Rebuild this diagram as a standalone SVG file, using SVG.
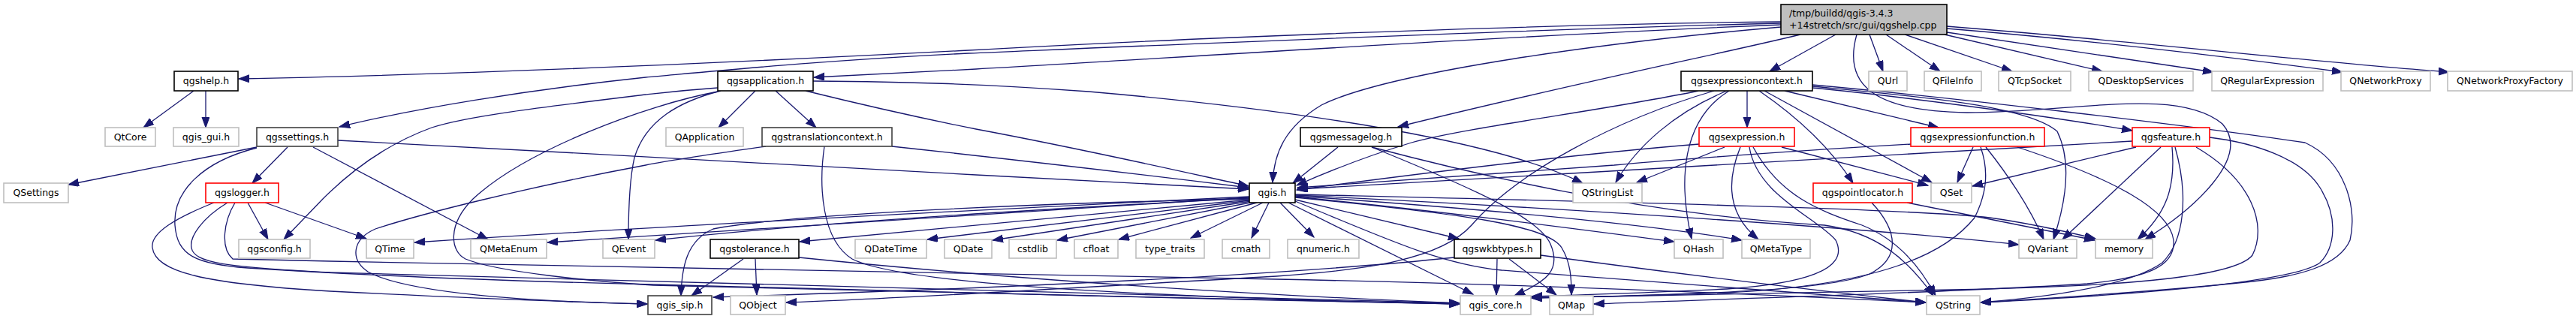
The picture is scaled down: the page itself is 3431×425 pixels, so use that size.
<svg xmlns="http://www.w3.org/2000/svg" width="3431" height="425" viewBox="0 0 3431 425">
<style>
.e{fill:none;stroke:#191970;stroke-width:1.3;marker-end:url(#a)}
.n rect{fill:#fff;stroke-width:1.6}
.k rect{stroke:#000}
.d rect{stroke:#404040}
.r rect{stroke:#ff0000}
.g rect{stroke:#bfbfbf}
text{font-family:"DejaVu Sans",sans-serif;font-size:12.5px;fill:#000;text-anchor:middle}
</style>
<defs>
<marker id="a" markerUnits="userSpaceOnUse" markerWidth="15" markerHeight="11" refX="14" refY="5" orient="auto">
<path d="M0,0 L14,5 L0,10 z" fill="#191970" stroke="#191970" stroke-width="1"/>
</marker>
</defs>
<rect width="3431" height="425" fill="#fff"/>
<g id="edges">
<path class="e" d="M2372,29 C2000,33 1500,55 1290,67 C1000,82 600,100 318,105"/>
<path class="e" d="M2372,31 C2000,40 1550,60 1290,71 C1100,80 950,95 860,103 C700,120 550,145 452,169"/>
<path class="e" d="M2372,33 C2000,48 1550,78 1300,92 C1200,97 1120,101 1084,103"/>
<path class="e" d="M2372,36 C2150,55 1850,95 1760,140 C1710,170 1697,205 1695,243"/>
<path class="e" d="M2398,46 C2300,70 2100,110 1862,169"/>
<path class="e" d="M2445,46 L2357,95"/>
<path class="e" d="M2473,46 C2455,110 2490,148 2620,150 C2760,150 2900,115 2960,165 C3000,210 2920,280 2857,319"/>
<path class="e" d="M2490,46 L2508,95"/>
<path class="e" d="M2512,46 L2584,95"/>
<path class="e" d="M2537,46 L2680,95"/>
<path class="e" d="M2590,46 L2800,95"/>
<path class="e" d="M2593,43 L2948,96"/>
<path class="e" d="M2593,38 C2800,55 3000,80 3120,96"/>
<path class="e" d="M2593,35 C2850,55 3100,85 3262,96"/>
<path class="e" d="M258,121 L191,170"/>
<path class="e" d="M274,121 L274,170"/>
<path class="e" d="M342,196 L91,246"/>
<path class="e" d="M383,196 L336,244"/>
<path class="e" d="M417,196 L650,319"/>
<path class="e" d="M450,187 C700,200 1100,222 1300,233 C1450,241 1560,247 1663,252"/>
<path class="e" d="M342,197 C270,215 230,255 233,300 C236,340 260,352 330,357 C500,368 700,375 870,379 C1200,388 1600,398 1944,405"/>
<path class="e" d="M330,270 L357,319"/>
<path class="e" d="M353,270 L488,318"/>
<path class="e" d="M285,270 C235,290 200,310 203,330 C207,362 270,378 440,388 C600,396 750,402 862,405"/>
<path class="e" d="M303,270 C270,290 252,315 255,330 C258,350 300,356 440,363 C700,374 1300,390 1944,404"/>
<path class="e" d="M313,270 C298,295 293,330 310,345 L440,348 C900,360 1300,366 1700,372 C2000,378 2300,390 2565,403"/>
<path class="e" d="M1006,121 L957,170"/>
<path class="e" d="M1033,121 L1087,170"/>
<path class="e" d="M1073,121 C1150,140 1250,162 1300,172 C1450,200 1580,230 1663,248"/>
<path class="e" d="M1083,108 C1200,109 1300,111 1450,122 C1750,148 2000,190 2108,244"/>
<path class="e" d="M956,117 C900,121 870,125 860,126 C720,143 620,155 575,170 C520,190 470,225 430,265 L378,319"/>
<path class="e" d="M960,121 C905,135 860,160 845,210 C838,240 837,280 837,319"/>
<path class="e" d="M956,122 C860,140 700,200 630,265 C595,300 600,335 620,345 C660,362 790,375 870,380 C1300,392 1600,398 1944,405"/>
<path class="e" d="M1020,195 C950,205 900,212 860,220 C700,250 560,285 500,305 C470,318 465,345 490,362 C540,390 700,402 862,405"/>
<path class="e" d="M1098,195 C1090,250 1095,320 1135,345 C1200,378 1500,395 1944,405"/>
<path class="e" d="M1188,195 C1400,218 1550,236 1663,250"/>
<path class="e" d="M1782,196 L1722,244"/>
<path class="e" d="M1827,196 C1960,250 2050,290 2065,325 C2080,360 2060,375 2017,394"/>
<path class="e" d="M1827,196 C2050,255 2250,290 2430,300 C2500,310 2540,345 2575,394"/>
<path class="e" d="M1664,262 C1300,280 900,300 552,323"/>
<path class="e" d="M1664,263 C1300,285 1000,305 729,323"/>
<path class="e" d="M1664,264 C1400,278 1100,295 873,320"/>
<path class="e" d="M1664,265 C1400,270 1050,285 950,305 C915,320 908,355 907,394"/>
<path class="e" d="M1664,266 L1065,322"/>
<path class="e" d="M1665,267 L1235,319"/>
<path class="e" d="M1667,268 L1322,320"/>
<path class="e" d="M1670,269 L1408,320"/>
<path class="e" d="M1674,270 L1490,319"/>
<path class="e" d="M1682,270 L1586,317"/>
<path class="e" d="M1690,270 L1667,317"/>
<path class="e" d="M1705,270 L1750,316"/>
<path class="e" d="M1725,266 L1943,318"/>
<path class="e" d="M1716,270 L1962,392"/>
<path class="e" d="M1725,263 C1950,285 2060,300 2080,330 C2092,350 2093,370 2093,393"/>
<path class="e" d="M1725,262 C1950,285 2100,305 2230,322"/>
<path class="e" d="M1725,261 C2000,280 2200,300 2320,320"/>
<path class="e" d="M1725,260 C2100,278 2500,305 2689,326"/>
<path class="e" d="M1725,259 C2100,268 2550,278 2650,290 C2700,297 2750,308 2791,318"/>
<path class="e" d="M1725,268 C1850,320 1920,352 2000,360 C2200,375 2400,392 2565,403"/>
<path class="e" d="M990,345 L921,394"/>
<path class="e" d="M1006,345 L1008,393"/>
<path class="e" d="M1064,343 C1300,367 1600,390 1944,404"/>
<path class="e" d="M1937,343 C1700,368 1300,385 950,396"/>
<path class="e" d="M1994,345 L1993,393"/>
<path class="e" d="M2010,345 L2073,393"/>
<path class="e" d="M2052,340 C2200,360 2400,385 2565,403"/>
<path class="e" d="M2262,121 C2150,145 1950,170 1880,190 C1820,208 1770,228 1727,247"/>
<path class="e" d="M2283,121 C2150,160 2020,230 1960,300 C1920,345 1820,360 1700,368 C1400,385 1200,398 1047,403"/>
<path class="e" d="M2300,121 C2230,150 2180,195 2152,243"/>
<path class="e" d="M2303,121 C2240,160 2235,240 2253,318"/>
<path class="e" d="M2327,121 L2327,170"/>
<path class="e" d="M2343,121 C2400,160 2440,200 2468,244"/>
<path class="e" d="M2350,121 L2573,243"/>
<path class="e" d="M2377,121 L2582,170"/>
<path class="e" d="M2414,117 C2500,125 2700,150 2840,174"/>
<path class="e" d="M2414,115 C2550,128 2700,140 2740,175 C2762,220 2748,280 2735,319"/>
<path class="e" d="M2414,113 C2600,130 2900,165 3070,190 C3125,215 3140,280 3130,320 C3115,355 3060,368 3000,375 C2880,388 2720,398 2638,403"/>
<path class="e" d="M2263,192 C2100,205 1900,230 1727,253"/>
<path class="e" d="M2297,196 L2180,243"/>
<path class="e" d="M2318,196 C2300,240 2300,285 2342,319"/>
<path class="e" d="M2330,196 C2340,260 2420,290 2445,320 C2465,360 2400,378 2300,385 C2200,390 2100,393 2040,395"/>
<path class="e" d="M2335,196 C2370,260 2420,280 2480,300 C2530,320 2560,360 2578,394"/>
<path class="e" d="M2373,196 L2568,247"/>
<path class="e" d="M2545,192 C2400,200 2200,215 2150,220 C2000,232 1850,242 1728,250"/>
<path class="e" d="M2628,196 L2607,243"/>
<path class="e" d="M2645,196 C2680,240 2705,280 2722,319"/>
<path class="e" d="M2638,196 C2650,230 2645,260 2630,290 C2590,340 2500,380 2300,390 C2200,394 2100,396 2040,396"/>
<path class="e" d="M2687,196 C2820,240 2890,280 2895,320 C2898,355 2860,370 2780,378 C2600,390 2300,398 2123,405"/>
<path class="e" d="M2840,188 C2600,205 2200,228 1728,252"/>
<path class="e" d="M2845,196 L2627,248"/>
<path class="e" d="M2878,196 L2747,319"/>
<path class="e" d="M2893,196 C2898,250 2885,285 2847,319"/>
<path class="e" d="M2897,196 C2915,260 2910,320 2880,350 C2830,385 2700,398 2638,403"/>
<path class="e" d="M2925,196 C3000,240 3020,300 3000,340 C2975,372 2800,382 2600,386 C2300,392 2150,396 2040,397"/>
<path class="e" d="M2943,183 C3000,190 3065,210 3090,250 C3115,290 3110,330 3090,350 C3060,372 2900,390 2638,403"/>
<path class="e" d="M2540,270 L2790,320"/>
<path class="e" d="M2493,270 C2530,310 2530,345 2490,365 C2440,385 2300,392 2040,397"/>
</g>
<g id="root" class="n k"><rect x="2372" y="6" width="221" height="40" style="fill:#bfbfbf"/><text x="2383" y="22" style="text-anchor:start">/tmp/buildd/qgis-3.4.3</text><text x="2383" y="38" style="text-anchor:start">+14stretch/src/gui/qgshelp.cpp</text></g>
<g id="qgshelp_h" class="n k"><rect x="232" y="95" width="85" height="26"/><text x="274.5" y="112">qgshelp.h</text></g>
<g id="qgsapplication_h" class="n k"><rect x="956" y="95" width="127" height="26"/><text x="1019.5" y="112">qgsapplication.h</text></g>
<g id="qgsexpressioncontext_h" class="n k"><rect x="2239" y="95" width="175" height="26"/><text x="2326.5" y="112">qgsexpressioncontext.h</text></g>
<g id="QUrl" class="n g"><rect x="2489" y="95" width="51" height="26"/><text x="2514.5" y="112">QUrl</text></g>
<g id="QFileInfo" class="n g"><rect x="2563" y="95" width="76" height="26"/><text x="2601" y="112">QFileInfo</text></g>
<g id="QTcpSocket" class="n g"><rect x="2662" y="95" width="96" height="26"/><text x="2710" y="112">QTcpSocket</text></g>
<g id="QDesktopServices" class="n g"><rect x="2782" y="95" width="139" height="26"/><text x="2851.5" y="112">QDesktopServices</text></g>
<g id="QRegularExpression" class="n g"><rect x="2946" y="95" width="148" height="26"/><text x="3020" y="112">QRegularExpression</text></g>
<g id="QNetworkProxy" class="n g"><rect x="3118" y="95" width="119" height="26"/><text x="3177.5" y="112">QNetworkProxy</text></g>
<g id="QNetworkProxyFactory" class="n g"><rect x="3260" y="95" width="166" height="26"/><text x="3343" y="112">QNetworkProxyFactory</text></g>
<g id="QtCore" class="n g"><rect x="140" y="170" width="67" height="25"/><text x="173.5" y="187">QtCore</text></g>
<g id="qgis_gui_h" class="n g"><rect x="231" y="170" width="87" height="25"/><text x="274.5" y="187">qgis_gui.h</text></g>
<g id="qgssettings_h" class="n d"><rect x="342" y="170" width="108" height="25"/><text x="396" y="187">qgssettings.h</text></g>
<g id="QApplication" class="n g"><rect x="887" y="170" width="103" height="25"/><text x="938.5" y="187">QApplication</text></g>
<g id="qgstranslationcontext_h" class="n d"><rect x="1015" y="170" width="173" height="25"/><text x="1101.5" y="187">qgstranslationcontext.h</text></g>
<g id="qgsmessagelog_h" class="n k"><rect x="1732" y="170" width="135" height="25"/><text x="1799.5" y="187">qgsmessagelog.h</text></g>
<g id="qgsexpression_h" class="n r"><rect x="2263" y="170" width="127" height="25"/><text x="2326.5" y="187">qgsexpression.h</text></g>
<g id="qgsexpressionfunction_h" class="n r"><rect x="2545" y="170" width="178" height="25"/><text x="2634" y="187">qgsexpressionfunction.h</text></g>
<g id="qgsfeature_h" class="n r"><rect x="2840" y="170" width="103" height="25"/><text x="2891.5" y="187">qgsfeature.h</text></g>
<g id="QSettings" class="n g"><rect x="5" y="244" width="86" height="26"/><text x="48" y="261">QSettings</text></g>
<g id="qgslogger_h" class="n r"><rect x="274" y="244" width="97" height="26"/><text x="322.5" y="261">qgslogger.h</text></g>
<g id="qgis_h" class="n k"><rect x="1664" y="244" width="61" height="26"/><text x="1694.5" y="261">qgis.h</text></g>
<g id="QStringList" class="n g"><rect x="2095" y="244" width="92" height="26"/><text x="2141" y="261">QStringList</text></g>
<g id="qgspointlocator_h" class="n r"><rect x="2415" y="244" width="132" height="26"/><text x="2481" y="261">qgspointlocator.h</text></g>
<g id="QSet" class="n g"><rect x="2572" y="244" width="54" height="26"/><text x="2599" y="261">QSet</text></g>
<g id="qgsconfig_h" class="n g"><rect x="318" y="319" width="95" height="25"/><text x="365.5" y="336">qgsconfig.h</text></g>
<g id="QTime" class="n g"><rect x="488" y="319" width="63" height="25"/><text x="519.5" y="336">QTime</text></g>
<g id="QMetaEnum" class="n g"><rect x="627" y="319" width="101" height="25"/><text x="677.5" y="336">QMetaEnum</text></g>
<g id="QEvent" class="n g"><rect x="803" y="319" width="69" height="25"/><text x="837.5" y="336">QEvent</text></g>
<g id="qgstolerance_h" class="n k"><rect x="946" y="319" width="118" height="25"/><text x="1005" y="336">qgstolerance.h</text></g>
<g id="QDateTime" class="n g"><rect x="1139" y="319" width="95" height="25"/><text x="1186.5" y="336">QDateTime</text></g>
<g id="QDate" class="n g"><rect x="1258" y="319" width="63" height="25"/><text x="1289.5" y="336">QDate</text></g>
<g id="cstdlib" class="n g"><rect x="1344" y="319" width="63" height="25"/><text x="1375.5" y="336">cstdlib</text></g>
<g id="cfloat" class="n g"><rect x="1431" y="319" width="58" height="25"/><text x="1460" y="336">cfloat</text></g>
<g id="type_traits" class="n g"><rect x="1513" y="319" width="91" height="25"/><text x="1558.5" y="336">type_traits</text></g>
<g id="cmath" class="n g"><rect x="1628" y="319" width="63" height="25"/><text x="1659.5" y="336">cmath</text></g>
<g id="qnumeric_h" class="n g"><rect x="1715" y="319" width="95" height="25"/><text x="1762.5" y="336">qnumeric.h</text></g>
<g id="qgswkbtypes_h" class="n k"><rect x="1937" y="319" width="115" height="25"/><text x="1994.5" y="336">qgswkbtypes.h</text></g>
<g id="QHash" class="n g"><rect x="2230" y="319" width="65" height="25"/><text x="2262.5" y="336">QHash</text></g>
<g id="QMetaType" class="n g"><rect x="2320" y="319" width="91" height="25"/><text x="2365.5" y="336">QMetaType</text></g>
<g id="QVariant" class="n g"><rect x="2689" y="319" width="77" height="25"/><text x="2727.5" y="336">QVariant</text></g>
<g id="memory" class="n g"><rect x="2791" y="319" width="76" height="25"/><text x="2829" y="336">memory</text></g>
<g id="qgis_sip_h" class="n d"><rect x="863" y="394" width="85" height="25"/><text x="905.5" y="411">qgis_sip.h</text></g>
<g id="QObject" class="n g"><rect x="973" y="394" width="73" height="25"/><text x="1009.5" y="411">QObject</text></g>
<g id="qgis_core_h" class="n g"><rect x="1945" y="394" width="94" height="25"/><text x="1992" y="411">qgis_core.h</text></g>
<g id="QMap" class="n g"><rect x="2064" y="394" width="58" height="25"/><text x="2093" y="411">QMap</text></g>
<g id="QString" class="n g"><rect x="2566" y="394" width="71" height="25"/><text x="2601.5" y="411">QString</text></g>
</svg>
